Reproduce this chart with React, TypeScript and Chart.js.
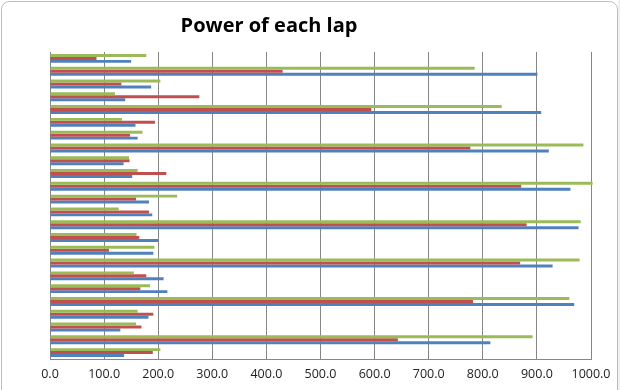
import React, { useEffect, useRef } from "react";
import { Chart, registerables } from "chart.js";

Chart.register(...registerables);

// Laps listed from lap 1 (bottom of the chart) to lap 24 (top)
const laps: string[] = [
  "Lap 1", "Lap 2", "Lap 3", "Lap 4", "Lap 5", "Lap 6", "Lap 7", "Lap 8",
  "Lap 9", "Lap 10", "Lap 11", "Lap 12", "Lap 13", "Lap 14", "Lap 15", "Lap 16",
  "Lap 17", "Lap 18", "Lap 19", "Lap 20", "Lap 21", "Lap 22", "Lap 23", "Lap 24",
];

const seriesBlue: number[] = [
  137, 814, 130, 182, 969, 217, 210, 929, 191, 200, 977, 189,
  183, 962, 152, 136, 922, 162, 158, 908, 139, 187, 901, 150,
];

const seriesRed: number[] = [
  190, 643, 169, 191, 782, 167, 178, 869, 109, 165, 881, 183,
  159, 871, 215, 147, 777, 148, 194, 594, 276, 132, 430, 86,
];

const seriesGreen: number[] = [
  204, 892, 159, 162, 960, 185, 155, 979, 193, 160, 981, 127,
  235, 1003, 162, 146, 986, 171, 133, 835, 120, 204, 785, 178,
];

const X_MIN = 0;
const X_MAX = 1000;
const X_STEP = 100;

const TITLE = "Power of each lap";

const framePlugin = {
  id: "frame",
  beforeDraw(chart: any) {
    const ctx = chart.ctx as CanvasRenderingContext2D;
    const w = chart.width;
    const h = chart.height;
    ctx.save();
    ctx.fillStyle = "#ffffff";
    ctx.fillRect(0, 0, w, h);
    ctx.fillStyle = "#f0f0f0";
    ctx.fillRect(618, 0, w - 618, h);
    ctx.strokeStyle = "#bcbcbc";
    ctx.lineWidth = 1;
    const x0 = 1.5, y0 = 1.5, x1 = 617.5, y1 = h + 20, r = 8;
    ctx.beginPath();
    ctx.moveTo(x0, y1);
    ctx.lineTo(x0, y0 + r);
    ctx.arcTo(x0, y0, x0 + r, y0, r);
    ctx.lineTo(x1 - r, y0);
    ctx.arcTo(x1, y0, x1, y0 + r, r);
    ctx.lineTo(x1, y1);
    ctx.stroke();
    ctx.restore();
  },
};

const titleShiftPlugin = {
  id: "titleShift",
  afterLayout(chart: any) {
    const t = chart.titleBlock;
    if (t) {
      t.left = 0;
      t.right = 538;
      t.width = 538;
    }
  },
};

export default function App() {
  const ref = useRef<HTMLCanvasElement | null>(null);

  useEffect(() => {
    document.body.style.margin = "0";
    const canvas = ref.current;
    if (!canvas) return;
    const chart = new Chart(canvas, {
      type: "bar",
      data: {
        labels: laps,
        datasets: [
          { label: "Series3", data: seriesGreen, backgroundColor: "#9BBB59", borderWidth: 0, clip: 5 } as any,
          { label: "Series2", data: seriesRed, backgroundColor: "#C0504D", borderWidth: 0 },
          { label: "Series1", data: seriesBlue, backgroundColor: "#4F81BD", borderWidth: 0 },
        ],
      },
      options: {
        indexAxis: "y",
        responsive: false,
        animation: false,
        devicePixelRatio: 1,
        datasets: {
          bar: { categoryPercentage: 0.7, barPercentage: 1.0 },
        },
        layout: { padding: { left: 50, right: 29, top: 0, bottom: 0 } },
        plugins: {
          legend: { display: false },
          tooltip: { enabled: false },
          title: {
            display: true,
            text: TITLE,
            color: "#000000",
            font: { family: "'Open Sans'", size: 20, weight: "bold" },
            padding: { top: 14, bottom: 14 },
          },
        },
        scales: {
          x: {
            type: "linear",
            min: X_MIN,
            max: X_MAX,
            ticks: {
              stepSize: X_STEP,
              autoSkip: false,
              maxRotation: 0,
              padding: 8,
              color: "#222222",
              font: { family: "'Open Sans'", size: 12.5 },
              callback: (v: any) => Number(v).toFixed(1),
            },
            grid: { color: "#868686", lineWidth: 1, drawTicks: false },
            border: { display: true, color: "#868686" },
          },
          y: {
            type: "category",
            reverse: true,
            ticks: { display: false },
            grid: { display: false, drawTicks: false },
            border: { display: true, color: "#868686" },
            afterFit: (s: any) => {
              s.width = 0;
            },
          },
        },
      },
      plugins: [framePlugin, titleShiftPlugin],
    });
    return () => chart.destroy();
  }, []);

  return (
    <div style={{ width: 620, height: 390 }}>
      <canvas ref={ref} width={620} height={390} style={{ display: "block", width: 620, height: 390 }} />
    </div>
  );
}
